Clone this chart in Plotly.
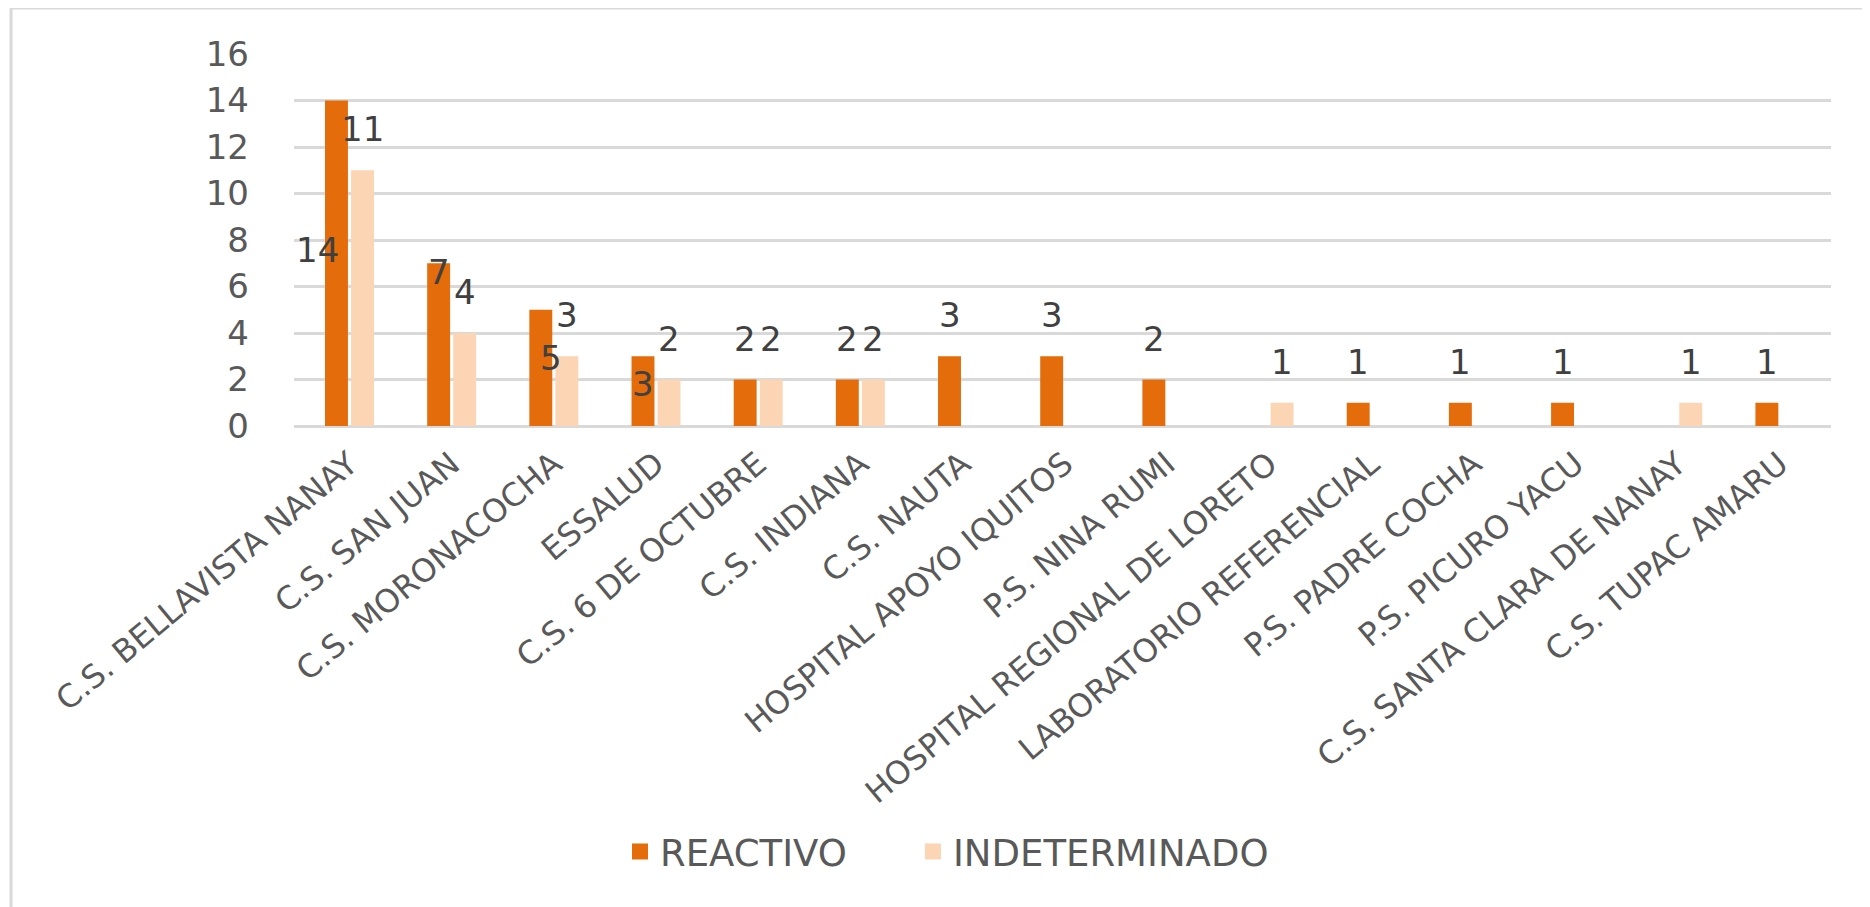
import plotly.graph_objects as go

categories = [
    "C.S. BELLAVISTA NANAY", "C.S. SAN JUAN", "C.S. MORONACOCHA", "ESSALUD",
    "C.S. 6 DE OCTUBRE", "C.S. INDIANA", "C.S. NAUTA", "HOSPITAL APOYO IQUITOS",
    "P.S. NINA RUMI", "HOSPITAL REGIONAL DE LORETO", "LABORATORIO REFERENCIAL",
    "P.S. PADRE COCHA", "P.S. PICURO YACU", "C.S. SANTA CLARA DE NANAY",
    "C.S. TUPAC AMARU",
]
reactivo = [14, 7, 5, 3, 2, 2, 3, 3, 2, None, 1, 1, 1, None, 1]
indeterminado = [11, 4, 3, 2, 2, 2, None, None, None, 1, None, None, None, 1, None]
y_ticks = [0, 2, 4, 6, 8, 10, 12, 14, 16]

FONT = "DejaVu Sans"
GREY = "#595959"
GRID = "#d9d9d9"
# name, values, colour, label x-shift, legend id, legend x (paper)
series = [("REACTIVO", reactivo, "#E46C0A", -13, "legend", 0.2121),
          ("INDETERMINADO", indeterminado, "#FCD5B4", 13, "legend2", 0.4027)]

# a few labels sit off their usual spot in the original chart (px offsets from the bar top)
label_moves = {("REACTIVO", 0): (-19, -149), ("REACTIVO", 1): (0, -9),
               ("REACTIVO", 2): (10, -48), ("REACTIVO", 3): (0, -28)}

fig = go.Figure()
for name, vals, color, _, leg, _ in series:
    fig.add_trace(go.Bar(x=categories, y=vals, name=name, marker_color=color,
                         marker_line_width=0, showlegend=False))
    # legend entry with a bigger square swatch
    fig.add_trace(go.Scatter(x=[None], y=[None], mode="markers", name=name, legend=leg,
                             marker=dict(symbol="square", size=22, color=color)))

for name, vals, _, dx, _, _ in series:
    for i, v in enumerate(vals):
        if v is None:
            continue
        mx, my = label_moves.get((name, i), (0, 41))
        fig.add_annotation(x=categories[i], y=v, text=str(v), showarrow=False,
                           xshift=dx + mx, yshift=my, yanchor="middle",
                           font=dict(family=FONT, size=34, color="#404040"))

fig.update_yaxes(range=[0, 16], tickvals=y_ticks, showgrid=True, gridcolor=GRID,
                 gridwidth=3, zeroline=True, zerolinecolor=GRID, zerolinewidth=3,
                 showline=False, ticks="", ticklabelstandoff=44,
                 tickfont=dict(family=FONT, size=34, color=GREY))
fig.update_xaxes(tickangle=-40, showline=False, ticks="", ticklabelstandoff=12,
                 tickfont=dict(family=FONT, size=32, color=GREY))

fig.add_shape(type="rect", xref="paper", yref="paper",
              x0=-0.1841, x1=1.2, y0=-1.5, y1=1.1237,
              line=dict(color=GRID, width=3))

leg_style = dict(orientation="h", y=-1.145, xanchor="left", yanchor="middle",
                 font=dict(family=FONT, size=37, color=GREY), bgcolor="rgba(0,0,0,0)")
fig.update_layout(
    barmode="group", bargap=0.49, bargroupgap=0.12,
    width=1862, height=899,
    margin=dict(l=286, r=39, t=46, b=481),
    plot_bgcolor="white", paper_bgcolor="white",
    showlegend=True,
    legend=dict(x=series[0][5], **leg_style),
    legend2=dict(x=series[1][5], **leg_style),
)

fig.write_html("out.html")
